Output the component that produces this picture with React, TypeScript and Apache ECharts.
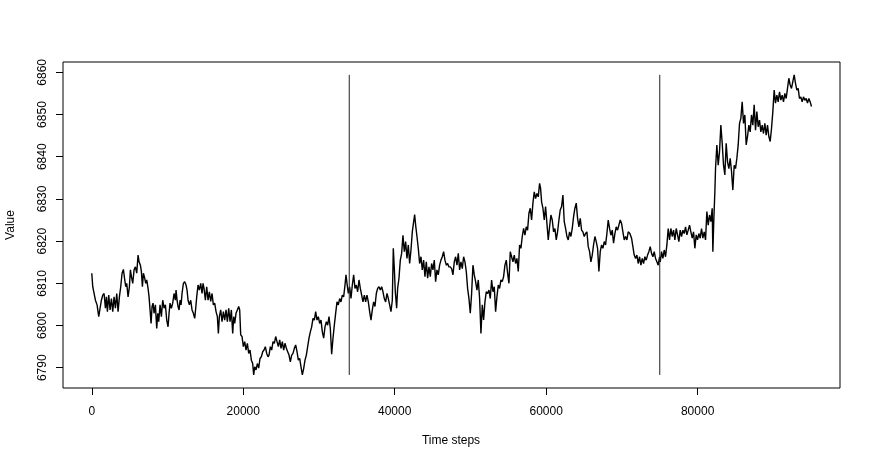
import React, { useEffect, useRef } from "react";
import * as echarts from "echarts";

// [time step, value] readings, in four stretches
const stretch1: [number, number][] = [
  [0, 6812.4], [128, 6809.2], [304, 6807.6], [480, 6806.0], [700, 6804.9], [920, 6802.1], [1096, 6804.1], [1272, 6806.0],
  [1448, 6807.2], [1624, 6807.6], [1800, 6804.1], [1932, 6806.8], [2064, 6803.3], [2240, 6807.2], [2416, 6803.7], [2592, 6806.4],
  [2768, 6803.3], [2944, 6806.8], [3120, 6804.1], [3296, 6807.6], [3472, 6803.3], [3648, 6806.8], [3824, 6809.2], [4000, 6812.4],
  [4176, 6813.3], [4352, 6810.8], [4484, 6809.2], [4616, 6810.0], [4792, 6806.8], [4968, 6809.2], [5100, 6813.2], [5232, 6811.6],
  [5408, 6810.0], [5584, 6813.2], [5760, 6813.9], [5936, 6812.4], [6112, 6816.7], [6244, 6815.1], [6420, 6814.3], [6552, 6812.8],
  [6684, 6809.2], [6816, 6812.4], [6992, 6811.2], [7124, 6810.0], [7256, 6810.8], [7432, 6808.8], [7564, 6806.8], [7696, 6803.7],
  [7828, 6800.5], [7960, 6804.5], [8092, 6805.3], [8224, 6802.9], [8400, 6804.9], [8576, 6799.3], [8708, 6802.9], [8840, 6800.9],
  [9016, 6804.9], [9192, 6802.1], [9368, 6806.0], [9544, 6804.1], [9720, 6804.9], [9896, 6801.3], [10072, 6799.7], [10204, 6802.9],
  [10336, 6805.3], [10512, 6804.1], [10688, 6805.3], [10864, 6807.6], [11040, 6806.0], [11128, 6808.4], [11260, 6806.0], [11392, 6804.5],
  [11524, 6803.7], [11656, 6806.0], [11788, 6804.9], [11920, 6807.6], [12096, 6810.0], [12272, 6810.4], [12448, 6809.6], [12580, 6808.4],
  [12712, 6806.0], [12888, 6804.9], [13064, 6806.0], [13240, 6803.7], [13416, 6802.9], [13592, 6801.7], [13724, 6804.1], [13856, 6806.8],
  [14032, 6809.6], [14208, 6808.4], [14384, 6810.0], [14560, 6807.6], [14692, 6810.0], [14824, 6808.8], [15000, 6806.0], [15176, 6809.2],
  [15352, 6806.0], [15528, 6808.0], [15704, 6805.7], [15880, 6807.6], [16056, 6804.9], [16232, 6805.3], [16408, 6803.3], [16584, 6802.1],
  [16716, 6798.1], [16848, 6802.1], [17024, 6803.7], [17200, 6800.9], [17376, 6803.3], [17552, 6801.3], [17728, 6803.7], [17904, 6800.9],
  [18080, 6804.1], [18256, 6800.9], [18432, 6803.7], [18608, 6798.1], [18740, 6802.1], [18872, 6800.5], [19048, 6802.9], [19224, 6803.7],
  [19400, 6804.5], [19532, 6803.7], [19664, 6797.8], [19840, 6797.4], [20016, 6795.0], [20192, 6796.2], [20368, 6794.2], [20544, 6795.8],
  [20720, 6793.4], [20896, 6794.2], [21072, 6791.8], [21248, 6791.0], [21380, 6788.3], [21512, 6790.2], [21688, 6789.5], [21864, 6791.0],
  [22040, 6789.9], [22216, 6792.2], [22392, 6792.6], [22568, 6793.8], [22744, 6794.2], [22920, 6795.0], [23096, 6793.4], [23272, 6792.6],
];

const stretch2: [number, number][] = [
  [23404, 6793.0], [23580, 6795.0], [23756, 6794.2], [23932, 6796.2], [24108, 6795.8], [24284, 6797.4], [24460, 6796.2], [24636, 6795.0],
  [24812, 6796.6], [24988, 6794.6], [25164, 6796.2], [25340, 6794.2], [25516, 6795.8], [25692, 6794.6], [25868, 6793.8], [26044, 6793.0],
  [26220, 6791.4], [26396, 6793.0], [26572, 6793.4], [26748, 6794.6], [26924, 6795.4], [27100, 6793.8], [27276, 6791.8], [27452, 6792.2],
  [27628, 6790.2], [27804, 6788.3], [27980, 6789.8], [28156, 6791.8], [28332, 6793.0], [28508, 6795.0], [28684, 6797.0], [28860, 6798.5],
  [29036, 6799.7], [29212, 6801.7], [29388, 6801.3], [29564, 6803.3], [29740, 6801.3], [29916, 6802.1], [30092, 6800.5], [30268, 6801.3],
  [30444, 6798.5], [30620, 6797.0], [30796, 6799.7], [30972, 6800.9], [31148, 6800.1], [31324, 6802.1], [31500, 6799.3], [31676, 6793.2],
  [31852, 6797.0], [32028, 6800.1], [32204, 6802.9], [32380, 6805.6], [32556, 6804.9], [32732, 6806.4], [32908, 6805.6], [33084, 6807.2],
  [33260, 6806.8], [33436, 6809.6], [33568, 6812.0], [33700, 6810.0], [33876, 6807.6], [34052, 6809.2], [34228, 6806.4], [34404, 6809.6],
  [34580, 6812.0], [34756, 6808.8], [34932, 6809.6], [35108, 6808.0], [35284, 6810.8], [35460, 6808.8], [35636, 6807.2], [35812, 6805.6],
  [35988, 6807.2], [36164, 6805.6], [36340, 6807.2], [36516, 6805.6], [36692, 6803.3], [36868, 6801.3], [37044, 6803.7], [37220, 6805.6],
  [37396, 6804.5], [37572, 6807.6], [37748, 6808.8], [37924, 6809.2], [38100, 6808.4], [38276, 6809.2], [38452, 6808.0], [38628, 6806.4],
  [38804, 6805.6], [38980, 6807.6], [39156, 6806.4], [39332, 6804.9], [39508, 6803.3], [39684, 6806.0], [39816, 6818.3], [39948, 6813.5],
  [40080, 6808.0], [40256, 6804.1], [40388, 6808.8], [40564, 6811.2], [40740, 6815.5], [40916, 6817.1], [41092, 6821.4], [41268, 6817.5],
  [41444, 6819.9], [41620, 6815.9], [41796, 6819.1], [41972, 6814.7], [42148, 6817.9], [42324, 6822.2], [42500, 6824.6], [42632, 6826.3],
  [42764, 6823.8], [42940, 6821.1], [43116, 6818.3], [43292, 6814.7], [43468, 6816.3], [43644, 6813.2], [43820, 6815.5], [43996, 6811.6],
  [44172, 6815.1], [44348, 6811.2], [44524, 6813.9], [44700, 6811.6], [44876, 6814.7], [45052, 6813.2], [45228, 6815.5], [45404, 6810.4],
  [45580, 6813.2], [45756, 6812.0], [45932, 6814.3], [46108, 6815.5], [46284, 6816.3], [46460, 6817.5], [46636, 6815.5], [46812, 6814.3],
  [46988, 6814.7], [47164, 6813.9],
];

const stretch3: [number, number][] = [
  [47340, 6813.9], [47516, 6813.5], [47692, 6812.0], [47868, 6815.1], [48044, 6816.3], [48220, 6814.3], [48396, 6817.1], [48572, 6813.2],
  [48748, 6815.1], [48924, 6813.5], [49100, 6816.3], [49276, 6815.1], [49452, 6812.8], [49628, 6808.8], [49804, 6806.4], [49980, 6802.9],
  [50156, 6807.6], [50332, 6814.3], [50508, 6812.0], [50684, 6810.4], [50860, 6808.4], [51036, 6810.8], [51212, 6806.4], [51388, 6798.1],
  [51564, 6804.9], [51740, 6801.3], [51916, 6805.6], [52092, 6808.0], [52268, 6807.6], [52444, 6808.4], [52620, 6806.4], [52796, 6810.8],
  [52972, 6808.0], [53148, 6809.2], [53324, 6803.3], [53500, 6806.8], [53676, 6809.6], [53852, 6808.8], [54028, 6810.8], [54204, 6810.4],
  [54380, 6811.6], [54556, 6814.3], [54732, 6815.5], [54908, 6812.4], [55084, 6810.0], [55260, 6817.5], [55436, 6816.3], [55612, 6815.1],
  [55788, 6816.7], [55964, 6814.7], [56140, 6815.9], [56316, 6812.8], [56492, 6819.1], [56668, 6818.3], [56844, 6821.1], [57020, 6823.0],
  [57196, 6821.4], [57372, 6823.4], [57548, 6822.6], [57724, 6826.6], [57900, 6827.8], [58076, 6825.0], [58252, 6829.0], [58428, 6831.7],
  [58604, 6830.1], [58780, 6831.3], [58956, 6830.5], [59132, 6833.7], [59264, 6832.5], [59396, 6829.3], [59572, 6827.8], [59748, 6825.0],
  [59924, 6828.2], [60100, 6824.2], [60276, 6820.3], [60452, 6823.4], [60628, 6826.2], [60804, 6825.0], [60980, 6822.2], [61156, 6823.0],
  [61332, 6820.3], [61508, 6822.2], [61684, 6825.0], [61860, 6827.4], [62036, 6828.2], [62212, 6830.9], [62388, 6824.6], [62564, 6823.0],
  [62740, 6821.1], [62916, 6820.3], [63092, 6822.2], [63268, 6821.1], [63444, 6823.0], [63620, 6825.8], [63796, 6827.8], [63972, 6829.0],
  [64148, 6825.4], [64324, 6823.4], [64500, 6825.4], [64676, 6822.6], [64852, 6822.2], [65028, 6821.1], [65204, 6821.8], [65380, 6822.2],
  [65556, 6818.7], [65732, 6817.5], [65908, 6815.1], [66084, 6816.7], [66260, 6819.1], [66436, 6821.1], [66612, 6819.9], [66788, 6818.3],
  [66964, 6812.8], [67140, 6817.5], [67316, 6819.1], [67492, 6818.3], [67668, 6819.9], [67844, 6819.1], [68020, 6821.8], [68196, 6825.0],
  [68372, 6823.0], [68548, 6821.4], [68724, 6822.6], [68900, 6819.5], [69076, 6821.8], [69252, 6823.4], [69428, 6822.6], [69604, 6823.8],
  [69780, 6825.0], [69956, 6824.2], [70132, 6822.2], [70308, 6820.3], [70484, 6821.1], [70660, 6820.3], [70836, 6822.2], [71056, 6821.8],
];

const stretch4: [number, number][] = [
  [71276, 6820.7], [71452, 6818.7], [71628, 6816.7], [71804, 6815.9], [71980, 6816.7], [72156, 6814.7], [72332, 6816.3], [72508, 6814.3],
  [72684, 6815.9], [72860, 6814.7], [73036, 6816.3], [73212, 6815.5], [73388, 6816.7], [73564, 6817.5], [73740, 6818.7], [73916, 6817.1],
  [74092, 6816.3], [74268, 6817.5], [74444, 6815.9], [74620, 6815.1], [74796, 6814.3], [74972, 6816.3], [75060, 6815.1], [75236, 6817.5],
  [75412, 6815.9], [75588, 6817.9], [75764, 6816.3], [75940, 6819.1], [76116, 6823.0], [76292, 6820.3], [76468, 6823.0], [76644, 6821.1],
  [76820, 6822.6], [76996, 6820.3], [77172, 6823.0], [77348, 6821.5], [77524, 6819.9], [77700, 6822.6], [77876, 6821.1], [78052, 6822.6],
  [78228, 6821.8], [78404, 6823.4], [78580, 6821.5], [78756, 6822.6], [78932, 6823.8], [79108, 6822.2], [79284, 6820.7], [79460, 6822.2],
  [79636, 6818.3], [79812, 6821.5], [79988, 6820.3], [80164, 6821.8], [80340, 6820.7], [80516, 6823.0], [80692, 6820.7], [80868, 6822.2],
  [81044, 6820.3], [81220, 6827.0], [81396, 6823.8], [81572, 6826.2], [81748, 6824.6], [81924, 6827.8], [82012, 6817.5], [82144, 6825.4],
  [82276, 6831.7], [82364, 6837.2], [82540, 6842.8], [82716, 6838.0], [82892, 6841.2], [83068, 6847.5], [83244, 6843.2], [83420, 6838.0],
  [83596, 6835.7], [83772, 6843.2], [83948, 6838.8], [84124, 6837.2], [84300, 6839.6], [84476, 6836.5], [84652, 6832.1], [84828, 6838.0],
  [85004, 6837.2], [85180, 6839.6], [85356, 6842.8], [85532, 6847.9], [85708, 6849.1], [85884, 6853.0], [86060, 6847.9], [86236, 6849.9],
  [86412, 6842.8], [86588, 6844.8], [86764, 6847.5], [86940, 6845.9], [87116, 6849.9], [87292, 6847.5], [87468, 6852.3], [87644, 6846.3],
  [87820, 6850.7], [87996, 6847.1], [88172, 6848.7], [88348, 6845.9], [88524, 6847.5], [88700, 6845.5], [88876, 6847.9], [89052, 6845.1],
  [89228, 6847.5], [89404, 6844.8], [89580, 6843.6], [89756, 6846.7], [89932, 6850.7], [90108, 6855.8], [90284, 6852.7], [90460, 6854.6],
  [90636, 6853.0], [90812, 6855.4], [90988, 6853.4], [91164, 6854.6], [91340, 6853.0], [91516, 6855.0], [91692, 6853.8], [91868, 6856.2],
  [92044, 6858.6], [92220, 6857.0], [92396, 6856.2], [92572, 6857.8], [92748, 6859.4], [92924, 6857.4], [93100, 6855.8], [93276, 6856.2],
  [93452, 6853.8], [93628, 6854.2], [93804, 6853.0], [93980, 6854.2], [94156, 6853.4], [94332, 6853.8], [94508, 6852.7], [94684, 6853.8],
  [94860, 6853.0], [95036, 6851.9],
];

const breakPoints = [34000, 75000];
const xTicks = [0, 20000, 40000, 60000, 80000];
const yTicks = [6790, 6800, 6810, 6820, 6830, 6840, 6850, 6860];
const xTitle = "Time steps";
const yTitle = "Value";

const FONT = "'Liberation Sans', Arial, Helvetica, sans-serif";

export default function App() {
  const ref = useRef<HTMLDivElement>(null);
  useEffect(() => {
    if (!ref.current) return;
    const chart = echarts.init(ref.current, undefined, { renderer: "svg" });
    const data = [...stretch1, ...stretch2, ...stretch3, ...stretch4];
    const vals = data.map((d) => d[1]);
    const lo = Math.min(...vals);
    const hi = Math.max(...vals);
    const vSeries = breakPoints.map((b) => ({
      type: "line",
      data: [[b, lo], [b, hi]],
      symbol: "none",
      silent: true,
      lineStyle: { color: "#222", width: 1 },
    }));
    chart.setOption({
      animation: false,
      grid: {
        left: 63,
        right: 32,
        top: 62,
        bottom: 79,
        show: true,
        borderColor: "#000",
        borderWidth: 1,
        backgroundColor: "transparent",
      },
      xAxis: {
        type: "value",
        min: -3800,
        max: 98800,
        splitLine: { show: false },
        axisLine: { show: false, onZero: false },
        axisTick: { show: true, inside: false, length: 7, customValues: xTicks, lineStyle: { color: "#000" } },
        axisLabel: {
          customValues: xTicks,
          color: "#000",
          fontSize: 12,
          fontFamily: FONT,
          margin: 17,
          formatter: (v: number) => String(v),
        },
      },
      yAxis: {
        type: "value",
        min: 6785.2,
        max: 6862.45,
        splitLine: { show: false },
        axisLine: { show: false, onZero: false },
        axisTick: { show: true, inside: false, length: 7, customValues: yTicks, lineStyle: { color: "#000" } },
        axisLabel: {
          customValues: yTicks,
          color: "#000",
          fontSize: 12,
          fontFamily: FONT,
          margin: 15,
          rotate: 90,
          formatter: (v: number) => String(v),
        },
      },
      graphic: [
        {
          type: "text",
          x: 451,
          y: 440,
          style: { text: xTitle, fill: "#000", font: `12px ${FONT}`, textAlign: "center", textVerticalAlign: "middle" },
        },
        {
          type: "text",
          x: 10,
          y: 225,
          rotation: Math.PI / 2,
          style: { text: yTitle, fill: "#000", font: `12px ${FONT}`, textAlign: "center", textVerticalAlign: "middle" },
        },
      ],
      series: [
        {
          type: "line",
          data,
          symbol: "none",
          silent: true,
          lineStyle: { color: "#000", width: 1.4 },
        },
        ...vSeries,
      ],
    });
    return () => chart.dispose();
  }, []);
  return <div ref={ref} style={{ position: "fixed", left: 0, top: 0, width: 872, height: 467 }} />;
}
